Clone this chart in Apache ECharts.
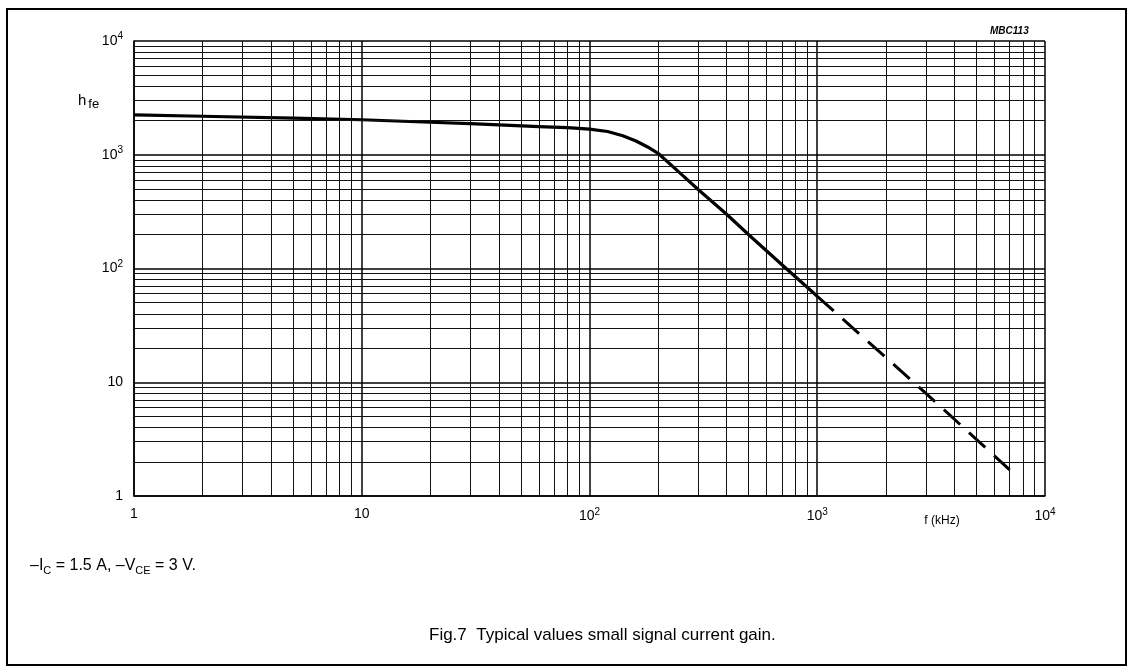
<!DOCTYPE html>
<html>
<head>
<meta charset="utf-8">
<script src="https://cdn.jsdelivr.net/npm/echarts@6/dist/echarts.min.js"></script>
<style>
html,body{margin:0;padding:0;background:#fff;}
#chart{width:1132px;height:672px;}
</style>
</head>
<body>
<div id="chart"></div>
<script>
// ---- data ----
const axisTicks = [1, 10, 100, 1000, 10000];
const minorX = [2,3,4,5,6,7,8,9, 20,30,40,50,60,70,80,90, 200,300,400,500,600,700,800,900, 2000,3000,4000,5000,6000,7000,8000,9000];
const minorY = [2,3,4,5,6,7,8,9, 20,30,40,50,60,70,80,90, 200,300,400,500,600,700,800,900, 2000,3000,4000,5000,6000,7000,8000,9000];
// measured part (solid)
const freqSolid = [1, 2, 5, 10, 20, 30, 60, 80, 100, 120, 140, 160, 180, 200, 250, 300, 400, 500, 700, 1000];
const hfeSolid  = [2240, 2180, 2100, 2030, 1930, 1880, 1770, 1730, 1680, 1600, 1470, 1320, 1170, 1030, 690, 495, 300, 198, 108, 57];
// extrapolated part (dashed)
const freqDash = [1000, 3000, 7000];
const hfeDash  = [57, 8, 1.7];

const FONT = "'Liberation Sans',Arial,sans-serif";

function expLabel(v){
  if (v === 1) return '1';
  if (v === 10) return '10';
  const n = Math.round(Math.log10(v));
  return '10{sup|' + n + '}';
}
const labelRich = {
  sup: { fontSize: 10, verticalAlign: 'bottom', padding: [0,0,9,0], fontFamily: FONT, color: '#000' }
};

const chart = echarts.init(document.getElementById('chart'), null, {renderer: 'canvas'});

const gridStyle = { color: '#111', width: 1, type: 'solid' };

chart.setOption({
  animation: false,
  backgroundColor: '#fff',
  grid: { left: 134, right: 87, top: 41, bottom: 176, containLabel: false },
  xAxis: {
    type: 'log', logBase: 10, min: 1, max: 10000,
    axisLine: { show: true, lineStyle: { color: '#000', width: 1.5 } },
    axisTick: { show: false },
    splitLine: { show: true, lineStyle: { color: '#000', width: 1.5 } },
    axisLabel: {
      formatter: expLabel, rich: labelRich, margin: 11,
      fontFamily: FONT, fontSize: 14, color: '#000'
    }
  },
  yAxis: {
    type: 'log', logBase: 10, min: 1, max: 10000,
    axisLine: { show: true, lineStyle: { color: '#000', width: 1.5 } },
    axisTick: { show: false },
    splitLine: { show: true, lineStyle: { color: '#000', width: 1.5 } },
    axisLabel: {
      formatter: expLabel, rich: labelRich, margin: 11,
      fontFamily: FONT, fontSize: 14, color: '#000'
    }
  },
  series: [
    {
      type: 'line', name: 'grid', data: [], silent: true,
      markLine: {
        silent: true, symbol: ['none','none'], animation: false,
        label: { show: false },
        lineStyle: gridStyle,
        data: minorX.map(v => ({ xAxis: v })).concat(minorY.map(v => ({ yAxis: v })))
      }
    },
    {
      type: 'line', name: 'hfe', showSymbol: false, smooth: false,
      data: freqSolid.map((f, i) => [f, hfeSolid[i]]),
      lineStyle: { color: '#000', width: 3.2, join: 'round' }
    },
    {
      type: 'line', name: 'hfe-ext', showSymbol: false,
      data: freqDash.map((f, i) => [f, hfeDash[i]]),
      lineStyle: { color: '#000', width: 3, type: [22, 12] }
    }
  ],
  graphic: [
    { type: 'rect', shape: { x: 7, y: 9, width: 1119, height: 656 }, style: { fill: 'none', stroke: '#000', lineWidth: 2 } },
    { type: 'text', x: 78, y: 90, style: {
        text: 'h{s|fe}', fontFamily: FONT, fontSize: 15, fill: '#000',
        rich: { s: { fontSize: 13, fontFamily: FONT, padding: [8,0,0,2] } }
    } },
    { type: 'text', x: 990, y: 26, style: { text: 'MBC113', fontFamily: FONT, fontSize: 10, fontStyle: 'italic', fontWeight: 'bold', fill: '#000' } },
    { type: 'text', x: 942, y: 521, style: { text: 'f (kHz)', fontFamily: FONT, fontSize: 12, fill: '#000', align: 'center', verticalAlign: 'middle' } },
    { type: 'text', x: 30, y: 566, style: {
        text: '–I{s|C} = 1.5 A, –V{s|CE} = 3 V.', fontFamily: FONT, fontSize: 16, fill: '#000', verticalAlign: 'middle',
        rich: { s: { fontSize: 11, fontFamily: FONT, padding: [10,0,0,0] } }
    } },
    { type: 'text', x: 429, y: 635, style: { text: 'Fig.7  Typical values small signal current gain.', fontFamily: FONT, fontSize: 17, fill: '#000', verticalAlign: 'middle' } }
  ]
});
</script>
</body>
</html>
